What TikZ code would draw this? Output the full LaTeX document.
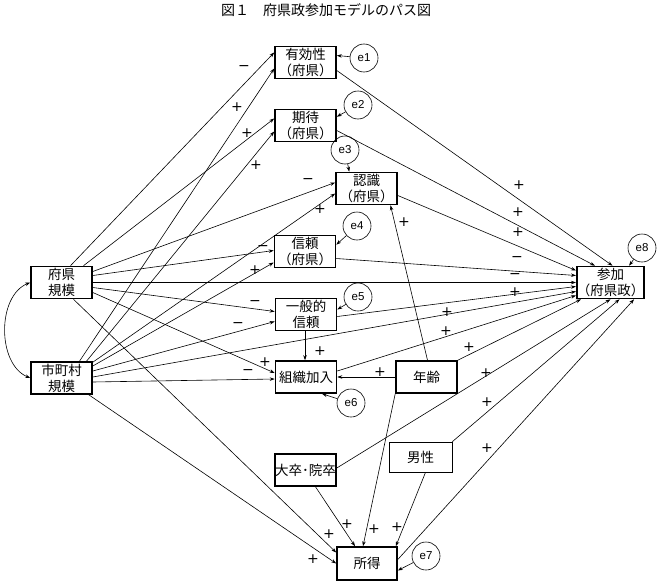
\documentclass[tikz,border=0pt]{standalone}
\usepackage{fontspec}
\setmainfont{Noto Sans CJK JP}
\newfontfamily\latf{Liberation Sans}
\newfontfamily\sgf{DejaVu Sans}
\usetikzlibrary{arrows.meta,calc}
\begin{document}
\begin{tikzpicture}[x=1pt,y=-1pt,
  box/.style={draw,line width=1.6pt,minimum width=61pt,minimum height=32pt,inner sep=0pt,align=center,font=\fontsize{13.5}{16}\selectfont},
  thinbox/.style={box,line width=0.7pt},
  err/.style={draw,circle,line width=0.6pt,minimum size=28pt,inner sep=0pt,font=\latf\fontsize{11.5}{12}\selectfont},
  arr/.style={line width=0.6pt,-{Stealth[length=5pt,width=3.5pt]}},
  sg/.style={font=\sgf\fontsize{14}{14}\selectfont,inner sep=0pt}]
\useasboundingbox (0,0) rectangle (660,586);
\node[font=\fontsize{14}{14}\selectfont] (title) at (326,10) {図１　府県政参加モデルのパス図};
% nodes
\node[box] (fk) at (61.5,282.5) {府県\\規模};
\node[box] (sc) at (61.5,378) {市町村\\規模};
\node[box] (yk) at (305.5,62.5) {有効性\\（府県）};
\node[box] (kt) at (305.5,125.5) {期待\\（府県）};
\node[box] (nn) at (366.5,188.5) {認識\\（府県）};
\node[box] (sr) at (305,251.5) {信頼\\（府県）};
\node[box] (ip) at (306,314.5) {一般的\\信頼};
\node[box] (sk) at (306,377) {組織加入};
\node[box] (nr) at (426.5,377) {年齢};
\node[box] (dg) at (305.5,470) {大卒･院卒};
\node[thinbox,minimum width=63pt,minimum height=30pt] (dn) at (420.5,457) {男性};
\node[box,minimum width=60pt,minimum height=33pt] (sy) at (367,563.5) {所得};
\node[box] (sa) at (610.5,282.5) {参加\\（府県政）};
% error terms
\node[err] (e1) at (364,58) {e1};
\node[err] (e2) at (358,105) {e2};
\node[err] (e3) at (345,150) {e3};
\node[err] (e4) at (357,226) {e4};
\node[err] (e5) at (358,297) {e5};
\node[err] (e6) at (351,403) {e6};
\node[err] (e7) at (426,556) {e7};
\node[err] (e8) at (642,248) {e8};
\draw[arr] (e1) -- ($(yk.east)+(0,-7)$);
\draw[arr] (e2) -- ($(kt.north east)+(0,8)$);
\draw[arr] (e3) -- ($(nn.north west)+(14,0)$);
\draw[arr] (e4) -- ($(sr.north east)+(0,10)$);
\draw[arr] (e5) -- ($(ip.east)+(0,-5)$);
\draw[arr] (e6) -- ($(sk.south)+(16,0)$);
\draw[arr] (e7) -- ($(sy.east)+(0,7)$);
\draw[arr] (e8) -- ($(sa.north east)+(-16,0)$);
% covariance
\draw[line width=0.6pt,{Stealth[length=5pt,width=3.5pt]}-{Stealth[length=5pt,width=3.5pt]}] (fk.west) .. controls (-3,296) and (-3,364) .. (sc.west);
% from 府県規模
\draw[arr] ($(fk.north)+(9,0)$) -- ($(yk.west)+(0,-10)$);
\draw[arr] ($(fk.north)+(22,0)$) -- ($(kt.west)+(0,-7)$);
\draw[arr] ($(fk.east)+(0,-11)$) -- ($(nn.west)+(0,-6)$);
\draw[arr] ($(fk.east)+(0,-7)$) -- ($(sr.west)+(0,-1)$);
\draw[arr] (fk.east) -- (sa.west);
\draw[arr] ($(fk.east)+(0,5)$) -- ($(ip.west)+(0,-3)$);
\draw[arr] ($(fk.east)+(0,10)$) -- ($(sk.west)+(0,-4)$);
\draw[arr] ($(fk.south)+(12,0)$) -- ($(sy.west)+(0,-11)$);
% from 市町村規模
\draw[arr] ($(sc.north)+(18,0)$) -- ($(yk.west)+(0,6)$);
\draw[arr] ($(sc.north)+(25,0)$) -- ($(kt.west)+(0,6)$);
\draw[arr] ($(sc.north east)+(0,1)$) -- ($(nn.west)+(0,5)$);
\draw[arr] ($(sc.east)+(0,-12)$) -- ($(sr.west)+(0,11)$);
\draw[arr] ($(sc.east)+(0,-7)$) -- ($(ip.west)+(0,7)$);
\draw[arr] ($(sc.east)+(0,-1)$) -- ($(sa.west)+(0,9)$);
\draw[arr] ($(sc.east)+(0,4)$) -- ($(sk.west)+(0,2)$);
\draw[arr] ($(sc.south east)+(-4,0)$) -- (sy.west);
% to 参加
\draw[arr] ($(yk.east)+(0,8)$) -- ($(sa.north)+(2,0)$);
\draw[arr] ($(kt.east)+(0,5)$) -- ($(sa.north west)+(19,0)$);
\draw[arr] ($(nn.east)+(0,7)$) -- ($(sa.west)+(0,-12)$);
\draw[arr] ($(sr.east)+(0,7)$) -- ($(sa.west)+(0,-7)$);
\draw[arr] ($(ip.east)+(0,2)$) -- ($(sa.west)+(0,4)$);
\draw[arr] ($(sk.east)+(0,-6)$) -- ($(sa.west)+(0,13)$);
\draw[arr] (nr.north east) -- ($(sa.south west)+(5,0)$);
\draw[arr] ($(dg.east)+(0,-2)$) -- (sa.south);
\draw[arr] (dn.north east) -- ($(sa.south)+(9,0)$);
\draw[arr] ($(sy.east)+(0,-4)$) -- ($(sa.south east)+(-11,0)$);
% others
\draw[arr] ($(nr.north)+(1,0)$) -- ($(nn.south)+(24,0)$);
\draw[arr] (nr.west) -- (sk.east);
\draw[arr] ($(ip.south)+(-1,0)$) -- ($(sk.north)+(-1,0)$);
\draw[arr] (nr.south west) -- ($(sy.north)+(-4,0)$);
\draw[arr] ($(dg.south)+(10,0)$) -- ($(sy.north)+(-12,0)$);
\draw[arr] ($(dn.south)+(5,0)$) -- ($(sy.north east)+(-2,0)$);
% signs
\node[sg] (s1) at (244,68) {−};
\node[sg] (s2) at (237,107) {+};
\node[sg] (s3) at (247,133) {+};
\node[sg] (s4) at (256,165) {+};
\node[sg] (s5) at (308,181) {−};
\node[sg] (s6) at (320,209) {+};
\node[sg] (s7) at (263,248) {−};
\node[sg] (s8) at (255,270) {+};
\node[sg] (s9) at (404,222) {+};
\node[sg] (s10) at (255,303) {−};
\node[sg] (s11) at (238,325) {−};
\node[sg] (s12) at (265,362) {+};
\node[sg] (s13) at (248,372) {−};
\node[sg] (s14) at (320,351) {+};
\node[sg] (s15) at (380,372) {+};
\node[sg] (s16) at (519,185) {+};
\node[sg] (s17) at (518,212) {+};
\node[sg] (s18) at (518,232) {+};
\node[sg] (s19) at (517,259) {−};
\node[sg] (s20) at (515,276) {−};
\node[sg] (s21) at (515,292) {+};
\node[sg] (s22) at (447,312) {+};
\node[sg] (s23) at (446,331) {+};
\node[sg] (s24) at (469,347) {+};
\node[sg] (s25) at (486,373) {+};
\node[sg] (s26) at (487,402) {+};
\node[sg] (s27) at (487,448) {+};
\node[sg] (s28) at (329,534) {+};
\node[sg] (s29) at (313,559) {+};
\node[sg] (s30) at (347,524) {+};
\node[sg] (s31) at (374,529) {+};
\node[sg] (s32) at (397,527) {+};
\end{tikzpicture}
\end{document}
